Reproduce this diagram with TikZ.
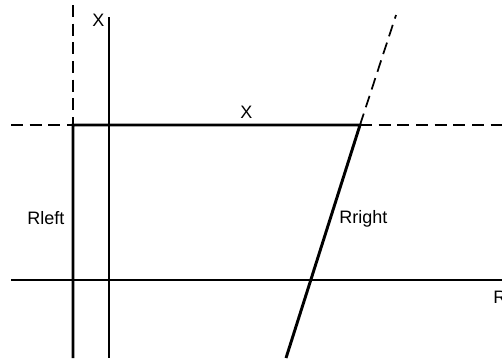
\documentclass[tikz,border=0pt]{standalone}
\usepackage{fontspec}
\setmainfont{Liberation Sans}
\usetikzlibrary{positioning, calc}

\begin{document}
\begin{tikzpicture}[x=0.75pt, y=-0.75pt, font=\fontsize{13.5}{16}\selectfont,
    txt/.style={inner sep=0pt, anchor=base west},
    axis/.style={line width=1.2pt},
    wall/.style={line width=2.2pt},
    guide/.style={line width=1.3pt, dash pattern=on 9pt off 5pt}]
           \useasboundingbox (0,0) rectangle (502,358);
           \coordinate (tl) at (73,125);
           \coordinate (tr) at (360,125);
           \coordinate (bl) at (73,358);
           \coordinate (br) at (286,358);
           \coordinate (ext) at (396,15);
           \coordinate (dtop) at (73,5);
           \coordinate (dleft) at (11,125);
           \coordinate (dright) at (502,125);
           \coordinate (xtop) at (109,17);
           \coordinate (xbot) at (109,358);
           \coordinate (rleft) at (11,280);
           \coordinate (rright) at (502,280);
           % axes
           \draw[axis] (xtop) -- (xbot);
           \draw[axis] (rleft) -- (rright);
           % guides
           \draw[guide] (dtop) -- (tl);
           \draw[guide] (dleft) -- (tl);
           \draw[guide] (tr) -- (dright);
           \draw[guide] (tr) -- (ext);
           % walls
           \draw[wall] (bl) -- (tl) -- (tr) -- (br);
           \node[txt] (xlab) at (92,26) {X};
           \node[txt] (xmid) at (240,118) {X};
           \node[txt] (lleft) at (27,224) {Rleft};
           \node[txt] (lright) at (339,223) {Rright};
           \node[txt] (rlab) at (493,303) {R};
        \end{tikzpicture}
\end{document}
